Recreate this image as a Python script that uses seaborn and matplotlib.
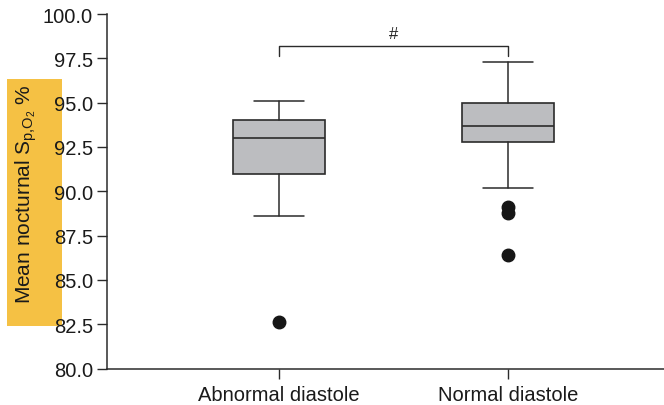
import numpy as np
import matplotlib
matplotlib.use("Agg")
import matplotlib.pyplot as plt
from matplotlib.patches import Rectangle
import seaborn as sns

# summary statistics
groups = ["Abnormal diastole", "Normal diastole"]
whis_lo = [88.6, 90.2]
q1 = [91.0, 92.8]
median = [93.0, 93.7]
q3 = [94.0, 95.0]
whis_hi = [95.1, 97.3]
outliers = [[82.6], [89.1, 88.75, 86.4]]

bracket_lo = 97.65
bracket_hi = 98.2
sig_label = "#"

sns.set_style("ticks")
plt.rcParams["font.family"] = ["Liberation Sans", "DejaVu Sans"]
plt.rcParams["mathtext.fontset"] = "custom"
plt.rcParams["mathtext.rm"] = "Liberation Sans"
plt.rcParams["mathtext.it"] = "Liberation Sans:italic"

line_col = "#2b2b2b"

fig = plt.figure(figsize=(6.64, 4.06), dpi=100)
ax = fig.add_axes([0.1611, 0.0899, 1.0 - 0.1611, 0.963 - 0.0899])
ax.set_facecolor("none")

stats = []
for i, g in enumerate(groups):
    stats.append({"label": g, "whislo": whis_lo[i], "q1": q1[i], "med": median[i],
                  "q3": q3[i], "whishi": whis_hi[i], "fliers": outliers[i]})

ax.bxp(stats, positions=range(len(groups)), widths=0.4, capwidths=0.215,
       patch_artist=True, showfliers=True,
       boxprops=dict(facecolor="#bcbdc0", edgecolor=line_col, linewidth=1.2),
       medianprops=dict(color=line_col, linewidth=1.2),
       whiskerprops=dict(color=line_col, linewidth=1.1),
       capprops=dict(color=line_col, linewidth=1.1),
       flierprops=dict(marker="o", markerfacecolor="#161616", markeredgecolor="#161616",
                       markersize=9))

# significance bracket
ax.plot([0, 0, 1, 1], [bracket_lo, bracket_hi, bracket_hi, bracket_lo],
        color=line_col, linewidth=1.0, clip_on=False)
ax.text(0.5, bracket_hi + 0.3, sig_label, ha="center", va="bottom", fontsize=12,
        color="#222222")

ax.set_xlim(-0.75, 1.68)
ax.set_ylim(80, 100)
ax.set_yticks(np.arange(80, 100.1, 2.5))
ax.set_yticklabels([f"{v:.1f}" for v in np.arange(80, 100.1, 2.5)])
ax.set_xticks(range(len(groups)))
ax.set_xticklabels(groups)
sns.despine(ax=ax)
for s in ["left", "bottom"]:
    ax.spines[s].set_color(line_col)
    ax.spines[s].set_linewidth(1.1)
ax.tick_params(axis="both", direction="out", length=7, width=1.0, color=line_col,
               labelcolor="#1a1a1a")
ax.tick_params(axis="y", labelsize=14.5, pad=3)
ax.tick_params(axis="x", labelsize=14.5, pad=5)

# highlighted y-axis label
fig.patches.append(Rectangle((7 / 664, 1 - 327 / 406), 55 / 664, 247 / 406,
                             transform=fig.transFigure, facecolor="#f5c144",
                             edgecolor="none", zorder=-1))
fig.text(26 / 664, 1 - 194 / 406, r"Mean nocturnal S$_{\mathrm{p{,}O}_2}$ %",
         rotation=90, ha="center", va="center", fontsize=15, color="#1a1a1a")

fig.savefig("out.png", dpi=100)
